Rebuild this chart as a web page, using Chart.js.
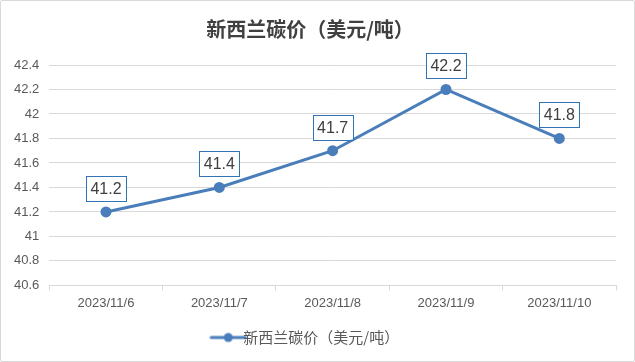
<!DOCTYPE html>
<html>
<head>
<meta charset="utf-8">
<script src="https://cdn.jsdelivr.net/npm/chart.js@4"></script>
<style>
  html, body { margin: 0; padding: 0; background: #fff; }
  #wrap { position: relative; width: 633px; height: 360px; border: 1px solid #d9d9d9; border-radius: 2px; }
</style>
</head>
<body>
<div id="wrap"><canvas id="chart" width="633" height="360"></canvas></div>
<script>
var titleText = '新西兰碳价（美元/吨）';
var categories = ['2023/11/6', '2023/11/7', '2023/11/8', '2023/11/9', '2023/11/10'];
var prices = [41.2, 41.4, 41.7, 42.2, 41.8];
var yMin = 40.6, yMax = 42.4, yStep = 0.2;

var lineColor = '#4a7ebb';
var textColor = '#595959';

// legend marker: line with a dot, like the reference
var marker = document.createElement('canvas');
marker.width = 38; marker.height = 12;
var mctx = marker.getContext('2d');
mctx.strokeStyle = lineColor; mctx.lineWidth = 3; mctx.lineCap = 'round';
mctx.beginPath(); mctx.moveTo(2, 6); mctx.lineTo(36, 6); mctx.stroke();
mctx.fillStyle = lineColor;
mctx.beginPath(); mctx.arc(19, 6, 4.5, 0, Math.PI * 2); mctx.fill();

var boxLabels = {
    id: 'boxLabels',
    afterDatasetsDraw: function (chart) {
        var ctx = chart.ctx;
        var meta = chart.getDatasetMeta(0);
        ctx.save();
        ctx.font = '16px "Liberation Sans", Arial, sans-serif';
        ctx.textAlign = 'center';
        ctx.textBaseline = 'middle';
        meta.data.forEach(function (pt, i) {
            var txt = String(prices[i]);
            var w = ctx.measureText(txt).width + 9;
            var h = 25;
            var x = pt.x - w / 2, y = pt.y - 11 - h;
            ctx.fillStyle = '#fff';
            ctx.fillRect(x, y, w, h);
            ctx.strokeStyle = '#2f75b5';
            ctx.lineWidth = 1;
            ctx.strokeRect(Math.round(x) + 0.5, Math.round(y) + 0.5, Math.round(w), h);
            ctx.fillStyle = '#404040';
            ctx.fillText(txt, pt.x, y + h / 2 + 1);
        });
        ctx.restore();
    }
};

new Chart(document.getElementById('chart'), {
    type: 'line',
    data: {
        labels: categories,
        datasets: [{
            label: titleText,
            data: prices,
            borderColor: lineColor,
            backgroundColor: lineColor,
            borderWidth: 3,
            pointRadius: 4,
            pointHoverRadius: 4,
            pointStyle: 'circle',
            tension: 0
        }]
    },
    options: {
        responsive: false,
        animation: false,
        layout: { padding: { left: 3, right: 18, top: 4, bottom: 6 } },
        plugins: {
            title: {
                display: true,
                text: titleText,
                color: '#404040',
                font: { family: '"Noto Sans CJK SC"', size: 20, weight: 'bold' },
                padding: { top: 12, bottom: 24 }
            },
            legend: {
                position: 'bottom',
                labels: {
                    color: textColor,
                    font: { family: '"Noto Sans CJK SC"', size: 15 },
                    usePointStyle: true,
                    pointStyle: marker,
                    padding: 14,
                    generateLabels: function (chart) {
                        return [{ text: titleText, pointStyle: marker, fontColor: textColor, datasetIndex: 0 }];
                    }
                }
            },
            tooltip: { enabled: false }
        },
        scales: {
            x: {
                offset: true,
                grid: { offset: true, drawOnChartArea: false, drawTicks: true, tickLength: 5, color: '#d9d9d9' },
                border: { display: true, color: '#d9d9d9' },
                ticks: {
                    color: textColor,
                    font: { family: '"Liberation Sans", Arial, sans-serif', size: 13 },
                    padding: 5,
                    maxRotation: 0
                }
            },
            y: {
                min: yMin,
                max: yMax,
                grid: { color: '#d9d9d9', drawTicks: false },
                border: { display: false },
                ticks: {
                    stepSize: yStep,
                    color: textColor,
                    font: { family: '"Liberation Sans", Arial, sans-serif', size: 13 },
                    padding: 10,
                    callback: function (v) { return String(parseFloat(v.toFixed(1))); }
                }
            }
        }
    },
    plugins: [boxLabels]
});
</script>
</body>
</html>
